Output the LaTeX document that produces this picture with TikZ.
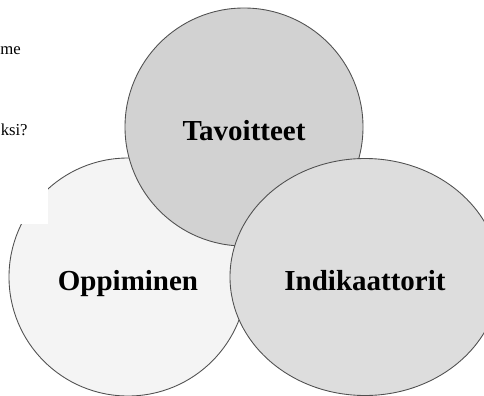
\documentclass[tikz,border=0pt]{standalone}
\usepackage{fontspec}
\setmainfont{Liberation Serif}
\usepackage{tikz}
\usetikzlibrary{shapes}
\definecolor{topgrey}{RGB}{210,210,210}
\definecolor{rightgrey}{RGB}{221,221,221}
\definecolor{leftgrey}{RGB}{244,244,244}
\definecolor{rimgrey}{RGB}{80,80,80}
\tikzset{%
  % Specifications for style of nodes:
            base1/.style = {circle, draw=rimgrey, line width=0.5pt,
                           minimum size=4.76cm, inner sep=0pt,
                           text height=0.52cm, text depth=0pt,
                           text centered, font=\fontsize{16.5}{19}\selectfont\bfseries},
            base2/.style = {ellipse, draw=rimgrey, line width=0.5pt,
                           minimum width=5.4cm, minimum height=4.74cm, inner sep=0pt,
                           text height=0.52cm, text depth=0pt,
                           text centered, font=\fontsize{16.5}{19}\selectfont\bfseries},
       darkcircle/.style = {base1, fill=topgrey},
       lightcircle/.style = {base1, fill=leftgrey},
       greyellipse/.style = {base2, fill=rightgrey},
       cuttext/.style = {inner sep=0pt, font=\fontsize{9.5}{12}\selectfont}
}
\begin{document}
\begin{tikzpicture}[node distance=3cm]
  \useasboundingbox (0,0) rectangle (9.68,7.9);
  % Specification of nodes (position, etc.)
  \node (oppiminen)		[lightcircle] at (2.56,2.36) {Oppiminen};
  \fill[white] (0,3.42) rectangle (0.96,4.26);
  \node (tavoitteet)		[darkcircle, above of = oppiminen, xshift = 2.32cm]{Tavoitteet};
  \node (indikaattorit)	[greyellipse, right of = oppiminen, xshift = 1.74cm]{Indikaattorit};
  \node (rivi1)			[cuttext, anchor=base west] at (0.0,6.82){me};
  \node (rivi2)			[cuttext, anchor=base east] at (0.56,5.2){ksi?};
\end{tikzpicture}
\end{document}
